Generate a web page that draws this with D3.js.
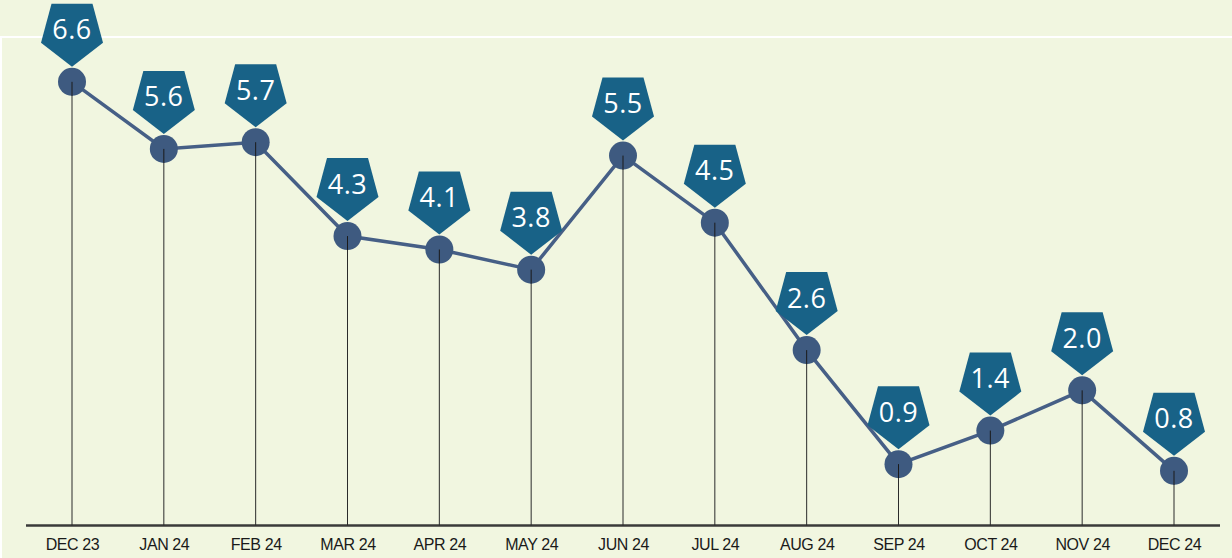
<!DOCTYPE html>
<html><head><meta charset="utf-8">
<script src="https://cdn.jsdelivr.net/npm/d3@7"></script>
<style>
html,body{margin:0;padding:0;background:#f1f6e0;}
svg{display:block;}
</style></head>
<body>
<svg id="chart" width="1232" height="558"></svg>
<script>
const categories = ["DEC 23","JAN 24","FEB 24","MAR 24","APR 24","MAY 24","JUN 24","JUL 24","AUG 24","SEP 24","OCT 24","NOV 24","DEC 24"];
const values = [6.6,5.6,5.7,4.3,4.1,3.8,5.5,4.5,2.6,0.9,1.4,2.0,0.8];
const yDomain = [0, 7];

const W = 1232, H = 558;
const svg = d3.select("#chart");
svg.append("rect").attr("width", W).attr("height", H).attr("fill", "#f1f6e0");
// white frame lines
svg.append("line").attr("x1", 0).attr("x2", W).attr("y1", 37).attr("y2", 37)
  .attr("stroke", "#ffffff").attr("stroke-width", 2);
svg.append("line").attr("x1", 1).attr("x2", 1).attr("y1", 37).attr("y2", H)
  .attr("stroke", "#ffffff").attr("stroke-width", 2);

const x = d3.scalePoint().domain(categories).range([72, 1174]);
const y = d3.scaleLinear().domain(yDomain).range([524.5, 55]);

const data = categories.map((c, i) => ({c, v: values[i]}));

// axis
const axisY = 525.5;
const axisG = svg.append("g").attr("transform", `translate(0,${axisY})`)
  .call(d3.axisBottom(x).tickSize(0).tickPadding(13));
axisG.select(".domain").remove();
axisG.selectAll("text").attr("font-family", "'Liberation Sans', Arial, sans-serif")
  .attr("font-size", 16).attr("fill", "#1a1a1a").style("letter-spacing", "-0.4px");
svg.append("line").attr("x1", 26).attr("x2", 1220).attr("y1", axisY).attr("y2", axisY)
  .attr("stroke", "#3a3a3a").attr("stroke-width", 2.5);

// drop lines
svg.append("g").selectAll("line").data(data).join("line")
  .attr("x1", d => x(d.c)).attr("x2", d => x(d.c))
  .attr("y1", d => y(d.v)).attr("y2", axisY)
  .attr("stroke", "#2b2b2b").attr("stroke-width", 1);

// line
svg.append("path").datum(data)
  .attr("d", d3.line().x(d => x(d.c)).y(d => y(d.v)))
  .attr("fill", "none").attr("stroke", "#465f86").attr("stroke-width", 3.5);

// points
svg.append("g").selectAll("circle").data(data).join("circle")
  .attr("cx", d => x(d.c)).attr("cy", d => y(d.v)).attr("r", 14)
  .attr("fill", "#3e5a80");

// drop line segment visible inside circle
svg.append("g").selectAll("line").data(data).join("line")
  .attr("x1", d => x(d.c)).attr("x2", d => x(d.c))
  .attr("y1", d => y(d.v)).attr("y2", d => y(d.v) + 14)
  .attr("stroke", "#1a1a1a").attr("stroke-width", 1);

// pentagon labels
const pent = (cx, cy) => {
  const pts = [[cx-20.5, cy-78],[cx+20.5, cy-78],[cx+31, cy-39],[cx, cy-15],[cx-31, cy-39]];
  return "M" + pts.map(p => p.join(",")).join("L") + "Z";
};
const lab = svg.append("g").selectAll("g").data(data).join("g");
lab.append("path").attr("d", d => pent(x(d.c), y(d.v))).attr("fill", "#186287");
lab.append("text").attr("x", d => x(d.c)).attr("y", d => y(d.v) - 53)
  .attr("text-anchor", "middle").attr("dominant-baseline", "central")
  .attr("font-family", "'Open Sans', sans-serif").attr("font-size", 27)
  .attr("font-weight", 400).style("letter-spacing", "0.5px")
  .attr("fill", "#ffffff").text(d => d.v.toFixed(1));
</script>
</body></html>
